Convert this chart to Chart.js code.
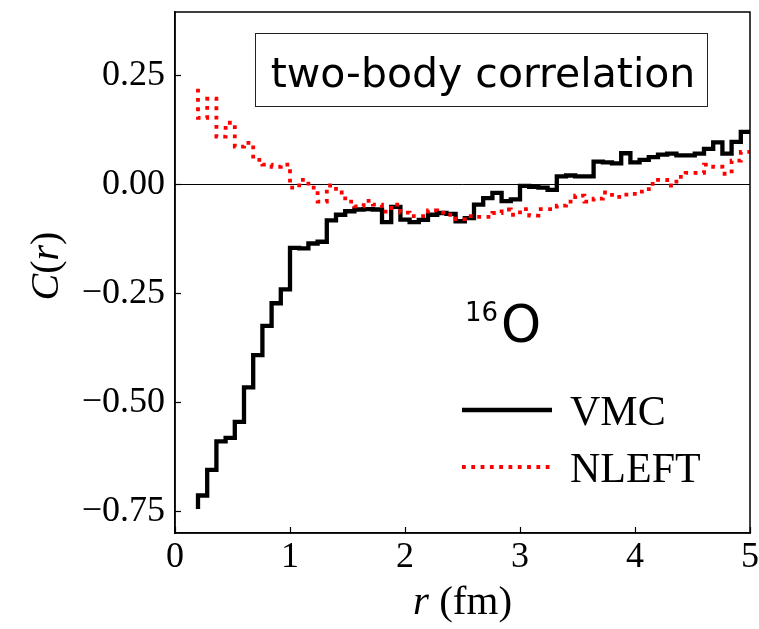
<!DOCTYPE html>
<html>
<head>
<meta charset="utf-8">
<script src="https://cdn.jsdelivr.net/npm/chart.js@4.4.1/dist/chart.umd.min.js"></script>
<style>
  body { margin: 0; background: #fff; }
  canvas { display: block; }
</style>
</head>
<body>
<canvas id="corrChart" width="759" height="629"></canvas>
<script>
// bin edges in fm (last edge lies just past the axis and is clipped)
const rEdges = [
  0.20, 0.28, 0.36, 0.44, 0.52, 0.60, 0.68, 0.76, 0.84, 0.92,
  1.00, 1.08, 1.16, 1.24, 1.32, 1.40, 1.48, 1.56, 1.64, 1.72,
  1.80, 1.88, 1.96, 2.04, 2.12, 2.20, 2.28, 2.36, 2.44, 2.52,
  2.60, 2.68, 2.76, 2.84, 2.92, 3.00, 3.08, 3.16, 3.24, 3.32,
  3.40, 3.48, 3.56, 3.64, 3.72, 3.80, 3.88, 3.96, 4.04, 4.12,
  4.20, 4.28, 4.36, 4.44, 4.52, 4.60, 4.68, 4.76, 4.84, 4.92,
  5.00, 5.08
];

// C(r), step-pre style: value i holds on [r(i-1), r(i)]
const vmc = [
  -0.745,
  -0.714, -0.655, -0.590, -0.582, -0.545, -0.466, -0.392, -0.325, -0.273, -0.241,
  -0.146, -0.147, -0.136, -0.132, -0.083, -0.070, -0.062, -0.058, -0.057, -0.058,
  -0.087, -0.052, -0.081, -0.087, -0.082, -0.070, -0.066, -0.068, -0.085, -0.078,
  -0.047, -0.032, -0.020, -0.039, -0.035, -0.004, -0.006, -0.008, -0.013, 0.018,
  0.020, 0.018, 0.018, 0.052, 0.050, 0.048, 0.071, 0.050, 0.056, 0.062,
  0.068, 0.070, 0.066, 0.066, 0.070, 0.081, 0.096, 0.070, 0.097, 0.120,
  0.080
];

const nleft = [
  0.219,
  0.152, 0.196, 0.109, 0.141, 0.086, 0.095, 0.056, 0.045, 0.040, 0.045,
  -0.008, 0.010, -0.008, -0.040, -0.003, -0.019, -0.040, -0.051, -0.038, -0.047,
  -0.063, -0.047, -0.065, -0.073, -0.073, -0.060, -0.065, -0.070, -0.080, -0.073,
  -0.075, -0.075, -0.066, -0.058, -0.070, -0.057, -0.072, -0.057, -0.057, -0.049,
  -0.040, -0.026, -0.040, -0.033, -0.019, -0.029, -0.024, -0.022, -0.017, 0.001,
  0.010, -0.003, 0.017, 0.026, 0.026, 0.045, 0.040, 0.024, 0.054, 0.074,
  0.085
];

const xTicks = [0, 1, 2, 3, 4, 5];
const yTicks = [-0.75, -0.5, -0.25, 0, 0.25];

const serif = '"Liberation Serif", "Times New Roman", serif';
const sans = '"DejaVu Sans", sans-serif';

function toPoints(ys) {
  return ys.map((y, i) => ({ x: rEdges[i], y: y }));
}

function fmtY(v) {
  const s = Math.abs(v).toFixed(2);
  return v < 0 ? '\u2212' + s : s;
}

// draws a run of text pieces with different fonts, centred on x
function drawRun(ctx, parts, x, y) {
  let total = 0;
  parts.forEach(p => { ctx.font = p.font; p.w = ctx.measureText(p.text).width; total += p.w; });
  let cx = x - total / 2;
  ctx.textAlign = 'left';
  parts.forEach(p => { ctx.font = p.font; ctx.fillText(p.text, cx, y); cx += p.w; });
}

// keep the plot box fixed: no extra room for edge tick labels
function noPad(s) {
  s.paddingTop = 0;
  s.paddingBottom = 0;
  s.paddingLeft = 0;
  s.paddingRight = 0;
}

const decor = {
  id: 'decor',
  afterDatasetsDraw(chart) {
    const { ctx, chartArea: a } = chart;
    ctx.save();

    // axes frame
    ctx.strokeStyle = '#000';
    ctx.lineWidth = 1.5;
    ctx.strokeRect(a.left, a.top, a.right - a.left, a.bottom - a.top);

    // title box
    ctx.lineWidth = 1;
    ctx.strokeStyle = '#222';
    ctx.strokeRect(255.5, 33.5, 452, 73);
    ctx.fillStyle = '#000';
    ctx.textBaseline = 'alphabetic';
    ctx.textAlign = 'center';
    ctx.font = '41px ' + sans;
    ctx.fillText('two-body correlation', 483, 87);

    // nucleus label
    ctx.textAlign = 'left';
    ctx.font = '26px ' + sans;
    ctx.fillText('16', 465, 321);
    ctx.font = '51px ' + sans;
    ctx.fillText('O', 501, 342);

    // legend
    const ds = chart.data.datasets;
    const rows = [{ d: ds[1], y: 410 }, { d: ds[0], y: 467 }];
    rows.forEach(row => {
      ctx.beginPath();
      ctx.strokeStyle = row.d.borderColor;
      ctx.lineWidth = row.d.borderWidth;
      ctx.lineCap = 'butt';
      ctx.setLineDash(row.d.borderDash || []);
      ctx.moveTo(462, row.y);
      ctx.lineTo(552, row.y);
      ctx.stroke();
      ctx.setLineDash([]);
      ctx.fillStyle = '#000';
      ctx.font = '42px ' + serif;
      ctx.fillText(row.d.label, 570, row.y + 15);
    });

    // axis titles
    drawRun(ctx, [
      { text: 'r', font: 'italic 41px ' + serif },
      { text: ' (fm)', font: '41px ' + serif }
    ], (a.left + a.right) / 2, 614);

    ctx.save();
    ctx.translate(58, 266);
    ctx.rotate(-Math.PI / 2);
    drawRun(ctx, [
      { text: 'C', font: 'italic 40px ' + serif },
      { text: '(', font: '40px ' + serif },
      { text: 'r', font: 'italic 40px ' + serif },
      { text: ')', font: '40px ' + serif }
    ], 0, 0);
    ctx.restore();

    ctx.restore();
  }
};

new Chart(document.getElementById('corrChart'), {
  type: 'line',
  data: {
    datasets: [
      {
        label: 'NLEFT',
        data: toPoints(nleft),
        borderColor: '#ff0000',
        borderWidth: 3.8,
        borderDash: [3.8, 5.5],
        borderCapStyle: 'butt',
        stepped: 'after',
        pointRadius: 0,
        clip: 0,
        order: 0
      },
      {
        label: 'VMC',
        data: toPoints(vmc),
        borderColor: '#000000',
        borderWidth: 4.3,
        borderJoinStyle: 'miter',
        stepped: 'after',
        pointRadius: 0,
        clip: 0,
        order: 1
      }
    ]
  },
  options: {
    responsive: false,
    animation: false,
    devicePixelRatio: 1,
    layout: { padding: { left: 0, right: 9, top: 12, bottom: 0 } },
    plugins: { legend: { display: false }, tooltip: { enabled: false } },
    scales: {
      x: {
        type: 'linear',
        min: 0,
        max: 5,
        afterBuildTicks: s => { s.ticks = xTicks.map(v => ({ value: v })); },
        afterFit: s => { s.height = 96; noPad(s); },
        border: { color: '#000', width: 1.5 },
        grid: { drawOnChartArea: false, tickLength: -6, tickColor: '#000', tickWidth: 1.2 },
        ticks: { color: '#000', padding: 9, maxRotation: 0, font: { family: serif, size: 36 }, callback: v => String(v) }
      },
      y: {
        min: -0.8,
        max: 0.395,
        afterBuildTicks: s => { s.ticks = yTicks.map(v => ({ value: v })); },
        afterFit: s => { s.width = 175; noPad(s); },
        border: { color: '#000', width: 1.5 },
        grid: {
          color: c => (c.tick && c.tick.value === 0 ? '#000' : 'rgba(0,0,0,0)'),
          lineWidth: 1,
          tickLength: -6,
          tickColor: '#000',
          tickWidth: 1.2
        },
        ticks: { color: '#000', padding: 16, font: { family: serif, size: 36 }, callback: v => fmtY(v) }
      }
    }
  },
  plugins: [decor]
});
</script>
</body>
</html>
